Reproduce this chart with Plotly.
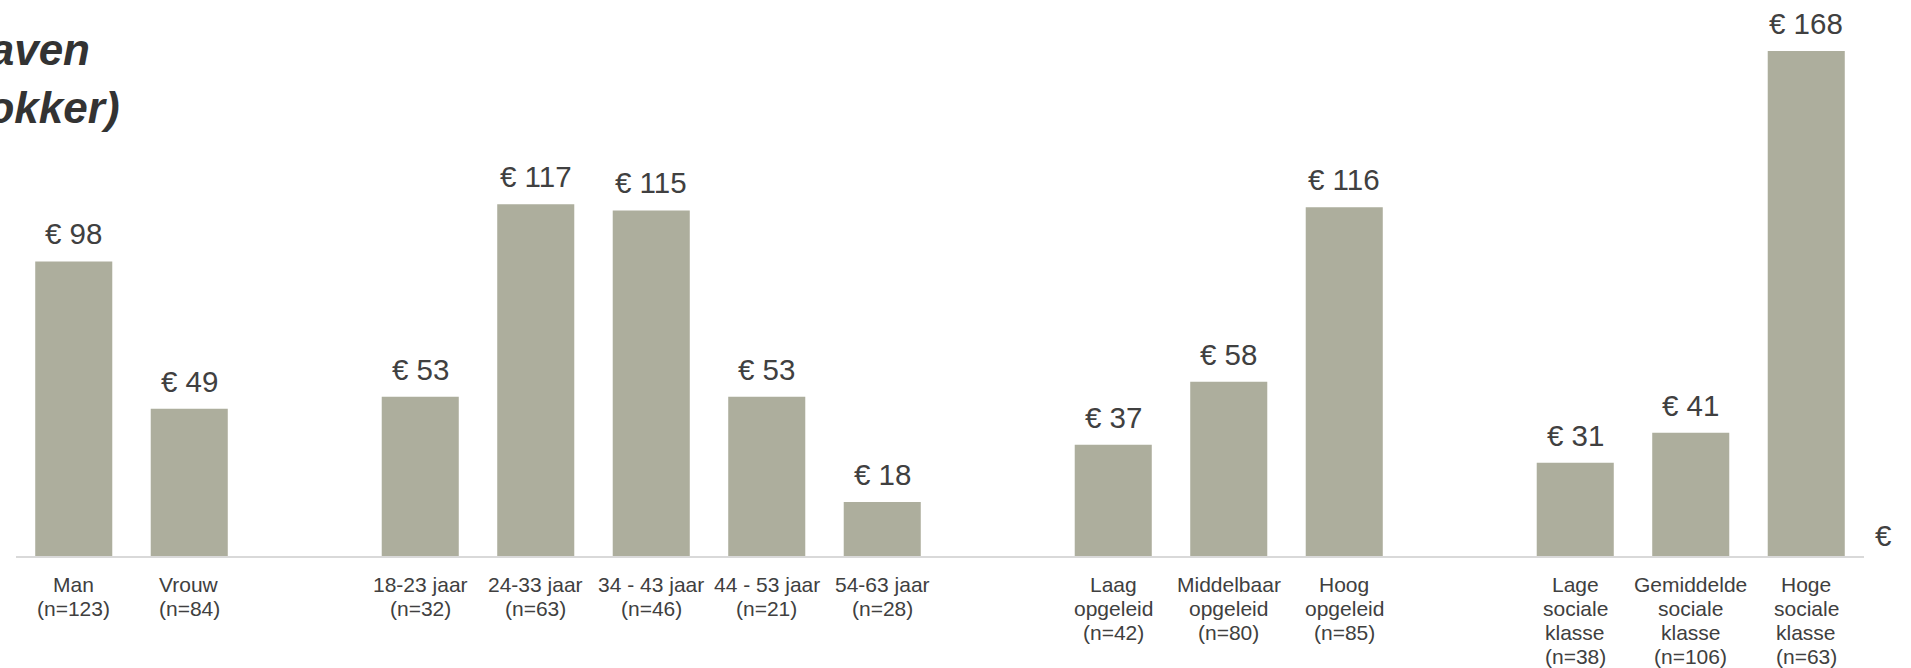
import plotly.graph_objects as go

# ---- data ----
groups = ["Geslacht", "Leeftijd", "Opleiding", "Sociale klasse"]
group_labels = [
    ["Man", "Vrouw"],
    ["18-23 jaar", "24-33 jaar", "34 - 43 jaar", "44 - 53 jaar", "54-63 jaar"],
    ["Laag|opgeleid", "Middelbaar|opgeleid", "Hoog|opgeleid"],
    ["Lage|sociale|klasse", "Gemiddelde|sociale|klasse", "Hoge|sociale|klasse"],
]
group_n = [
    [123, 84],
    [32, 63, 46, 21, 28],
    [42, 80, 85],
    [38, 106, 63],
]
group_values = [
    [98, 49],
    [53, 117, 115, 53, 18],
    [37, 58, 116],
    [31, 41, 168],
]
title_lines = ["Gemiddelde uitgaven", "(per rokker)"]
currency = "€"

# ---- styling ----
BAR = "#ADAE9D"
TXT = "#404040"
FONT = "Liberation Sans, Arial, sans-serif"
LABEL_SIZE = 21
LABEL_LINE = 24
VALUE_SIZE = 29.5

# build categories with a blank spacer slot between groups
cats, label_lines, vals = [], [], []
for gi, (labs, ns, vs) in enumerate(zip(group_labels, group_n, group_values)):
    if gi > 0:
        cats.append(f"gap{gi}")
        label_lines.append([])
        vals.append(None)
    for lab, n, v in zip(labs, ns, vs):
        cats.append(f"c{len(cats)}")
        label_lines.append(lab.split("|") + [f"(n={n})"])
        vals.append(v)

fig = go.Figure()
fig.add_trace(go.Bar(x=cats, y=vals, marker=dict(color=BAR, line=dict(width=0)),
                     hoverinfo="skip"))

annotations = []
for c, v, lines in zip(cats, vals, label_lines):
    if v is None:
        continue
    # value label
    annotations.append(dict(x=c, y=v, xref="x", yref="y", text=f"{currency} {v}",
                            showarrow=False, yanchor="bottom", yshift=9,
                            font=dict(family=FONT, size=VALUE_SIZE, color=TXT)))
    # category label, one line at a time
    for i, line in enumerate(lines):
        annotations.append(dict(x=c, y=0, xref="x", yref="paper", text=line,
                                showarrow=False, yanchor="top", xanchor="center",
                                yshift=-15 - i * LABEL_LINE,
                                font=dict(family=FONT, size=LABEL_SIZE, color=TXT)))

# title (cut off at the left edge as in the source)
title_font = dict(family=FONT, size=44, color="#333333")
annotations.append(dict(xref="paper", yref="paper", x=0, y=1, xanchor="right", yanchor="bottom",
                        xshift=76, yshift=-76, text=f"<b><i>{title_lines[0]}</i></b>",
                        showarrow=False, font=title_font))
annotations.append(dict(xref="paper", yref="paper", x=0, y=1, xanchor="right", yanchor="bottom",
                        xshift=106, yshift=-134, text=f"<b><i>{title_lines[1]}</i></b>",
                        showarrow=False, font=title_font))
# stray currency symbol on the right
annotations.append(dict(xref="paper", yref="paper", x=1, y=0, xanchor="center", yanchor="bottom",
                        xshift=19, yshift=2, text=currency, showarrow=False,
                        font=dict(family=FONT, size=VALUE_SIZE, color=TXT)))

fig.update_layout(
    width=1911, height=668,
    margin=dict(l=16, r=47, t=0, b=112, autoexpand=False),
    paper_bgcolor="white", plot_bgcolor="white",
    bargap=0.333,
    showlegend=False,
    hovermode=False,
    annotations=annotations,
    xaxis=dict(type="category", categoryorder="array", categoryarray=cats,
               showticklabels=False, showgrid=False, zeroline=False,
               showline=True, linecolor="#D9D9D9", linewidth=2, ticks="",
               automargin=False, fixedrange=True),
    yaxis=dict(range=[0, 185], visible=False, showgrid=False, zeroline=False,
               automargin=False, fixedrange=True),
)

fig.write_html("out.html", config={"displayModeBar": False},
               post_script="document.body.style.margin='0';")
